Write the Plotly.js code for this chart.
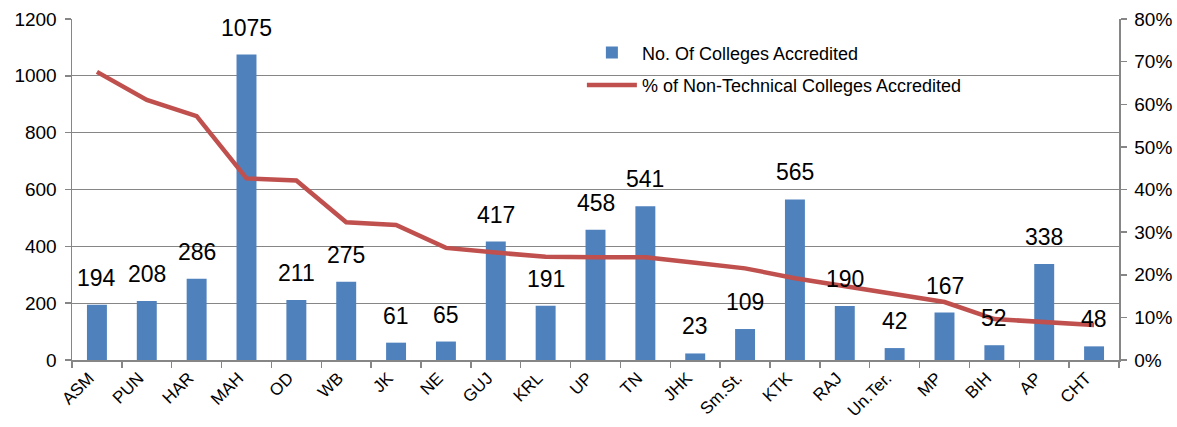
<!DOCTYPE html>
<html><head><meta charset="utf-8">
<script src="https://cdn.plot.ly/plotly-3.0.1.min.js"></script>
<style>html,body{margin:0;padding:0;background:#fff}#chart{width:1177px;height:427px}</style>
</head><body><div id="chart"></div>
<script>
var categories = ["ASM","PUN","HAR","MAH","OD","WB","JK","NE","GUJ","KRL","UP","TN","JHK","Sm.St.","KTK","RAJ","Un.Ter.","MP","BIH","AP","CHT"];
var collegesAccredited = [194,208,286,1075,211,275,61,65,417,191,458,541,23,109,565,190,42,167,52,338,48];
var pctNonTechnical = [0.676,0.610,0.572,0.426,0.421,0.323,0.317,0.263,0.252,0.242,0.241,0.241,0.228,0.215,0.192,0.174,0.156,0.136,0.096,0.089,0.082];
var leftTicks = [0,200,400,600,800,1000,1200];
var rightTicks = [0,0.1,0.2,0.3,0.4,0.5,0.6,0.7,0.8];

var FONT = "Liberation Sans, Arial, sans-serif";
var GRID = "#868686";

var bars = {
  type: "bar", name: "No. Of Colleges Accredited", legendgroup: "a",
  x: categories, y: collegesAccredited,
  marker: {color: "#4F81BD"}, hoverinfo: "x+y"
};
var line = {
  type: "scatter", mode: "lines", name: "% of Non-Technical Colleges Accredited", legendgroup: "b",
  x: categories, y: pctNonTechnical, yaxis: "y2",
  line: {color: "#C0504D", width: 4.5}
};

var annotations = categories.map(function(c, i){
  return {x: c, y: collegesAccredited[i], xref: "x", yref: "y",
    text: String(collegesAccredited[i]), showarrow: false,
    yshift: 27, yanchor: "middle", font: {family: FONT, size: 23, color: "#000"}};
});

var layout = {
  width: 1177, height: 427,
  margin: {l: 72, r: 58, t: 19, b: 67},
  paper_bgcolor: "#fff", plot_bgcolor: "#fff",
  showlegend: true,
  bargap: 0.6,
  font: {family: FONT, size: 18, color: "#000"},
  legend: {x: 0.487, y: 0.955, xanchor: "left", yanchor: "top", bgcolor: "rgba(0,0,0,0)",
    font: {family: FONT, size: 18, color: "#000"}, tracegroupgap: 6, itemwidth: 50,
    traceorder: "grouped"},
  xaxis: {type: "category", showgrid: false, showline: true, linecolor: GRID, linewidth: 1.5,
    ticks: "outside", ticklen: 6, tickcolor: GRID, tickwidth: 1.5, tickson: "boundaries",
    tickangle: -45, tickfont: {family: FONT, size: 17}, ticklabelshift: -8},
  yaxis: {range: [0, 1200], tickvals: leftTicks, showgrid: true, gridcolor: GRID, gridwidth: 1,
    showline: true, linecolor: GRID, linewidth: 1.5, ticks: "outside", ticklen: 6, tickcolor: GRID,
    tickwidth: 1.5, zeroline: false, tickfont: {family: FONT, size: 19}, ticklabelstandoff: 4},
  yaxis2: {range: [0, 0.8], tickvals: rightTicks, tickformat: ".0%", overlaying: "y", side: "right",
    showgrid: false, showline: true, linecolor: GRID, linewidth: 1.5, ticks: "outside", ticklen: 6,
    tickcolor: GRID, tickwidth: 1.5, zeroline: false, tickfont: {family: FONT, size: 19}, ticklabelstandoff: 4},
  annotations: annotations
};

Plotly.newPlot("chart", [bars, line], layout, {displayModeBar: false, staticPlot: true});
</script></body></html>
